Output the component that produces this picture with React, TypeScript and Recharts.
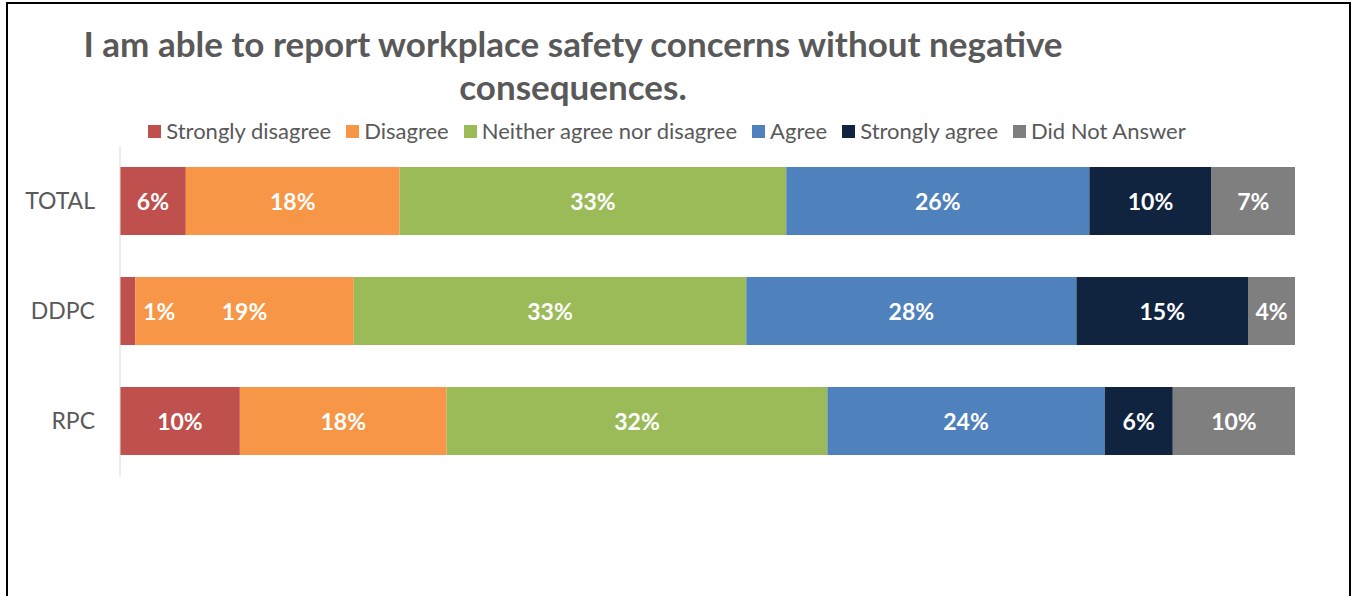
import React from "react";
import { Bar, BarChart, LabelList, Legend, XAxis, YAxis } from "recharts";

const categories = ["TOTAL", "DDPC", "RPC"];
const seriesNames = [
  "Strongly disagree",
  "Disagree",
  "Neither agree nor disagree",
  "Agree",
  "Strongly agree",
  "Did Not Answer",
];
const stronglyDisagree = [5.6, 1.3, 10.2];
const disagree = [18.2, 18.6, 17.6];
const neither = [32.9, 33.4, 32.4];
const agree = [25.8, 28.1, 23.6];
const stronglyAgree = [10.4, 14.6, 5.8];
const didNotAnswer = [7.1, 4.0, 10.4];

const colors = ["#C0504D", "#F79646", "#9BBB59", "#4F81BD", "#10243F", "#7F7F7F"];
const keys = ["sd", "d", "n", "a", "sa", "dna"];
const FONT = "Lato, 'Open Sans', sans-serif";

const data = categories.map((name, i) => ({
  name,
  sd: stronglyDisagree[i],
  d: disagree[i],
  n: neither[i],
  a: agree[i],
  sa: stronglyAgree[i],
  dna: didNotAnswer[i],
}));

// small segments put their label just to the right, like the excel original
const renderLabel = (props: any) => {
  const { x, y, width, height, value } = props;
  const small = width < 30;
  return (
    <text
      x={small ? x + width + 8 : x + width / 2}
      y={y + height / 2}
      textAnchor={small ? "start" : "middle"}
      dominantBaseline="central"
      fill="#FFFFFF"
      fontFamily={FONT}
      fontWeight={700}
      fontSize={23}
    >
      {Math.round(value)}%
    </text>
  );
};

const renderLegend = () => (
  <div
    style={{
      display: "flex",
      justifyContent: "center",
      gap: 15,
      fontFamily: FONT,
      fontSize: 22,
      color: "#595959",
      lineHeight: "26px",
    }}
  >
    {seriesNames.map((s, i) => (
      <div key={s} style={{ display: "flex", alignItems: "center", gap: 5 }}>
        <span style={{ width: 13, height: 13, background: colors[i], display: "inline-block" }} />
        <span>{s}</span>
      </div>
    ))}
  </div>
);

export default function App() {
  return (
    <div
      style={{
        position: "absolute",
        left: 0,
        top: 0,
        width: 1357,
        height: 596,
        background: "#fff",
        overflow: "hidden",
      }}
    >
      <div
        style={{
          position: "absolute",
          left: 6,
          top: 2,
          width: 1341,
          height: 620,
          border: "2px solid #000",
        }}
      />
      <div
        style={{
          position: "absolute",
          left: 0,
          top: 22,
          width: 1146,
          textAlign: "center",
          fontFamily: FONT,
          fontWeight: 700,
          fontSize: 35,
          lineHeight: "43px",
          color: "#595959",
        }}
      >
        I am able to report workplace safety concerns without negative
        <br />
        consequences.
      </div>
      <div style={{ position: "absolute", left: 0, top: 0 }}>
        <BarChart
          width={1357}
          height={596}
          data={data}
          layout="vertical"
          barCategoryGap="19%"
          margin={{ top: 120, right: 62, bottom: 120, left: 8 }}
        >
          <XAxis type="number" domain={[0, 100]} hide allowDataOverflow />
          <YAxis
            type="category"
            dataKey="name"
            width={112}
            axisLine={{ stroke: "#D9D9D9" }}
            tickLine={false}
            tickSize={0}
            tickMargin={25}
            tick={{ fill: "#595959", fontSize: 23, fontFamily: FONT }}
          />
          <Legend
            content={renderLegend}
            verticalAlign="top"
            wrapperStyle={{ top: 118, left: 0, width: 1334 }}
          />
          {keys.map((k, i) => (
            <Bar
              key={k}
              dataKey={k}
              name={seriesNames[i]}
              stackId="s"
              fill={colors[i]}
              isAnimationActive={false}
            >
              <LabelList dataKey={k} content={renderLabel} />
            </Bar>
          ))}
        </BarChart>
      </div>
    </div>
  );
}
